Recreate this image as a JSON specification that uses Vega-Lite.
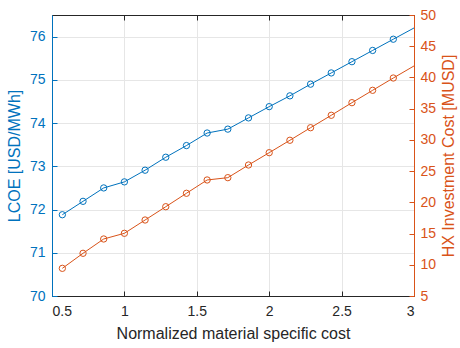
{
  "$schema": "https://vega.github.io/schema/vega-lite/v6.json",
  "width": 362,
  "height": 281,
  "autosize": {"type": "none"},
  "padding": {"left": 52, "top": 15, "right": 46, "bottom": 52},
  "background": "white",
  "config": {
    "view": {"stroke": "#262626", "strokeWidth": 1},
    "font": "Liberation Sans",
    "axis": {
      "labelFont": "Liberation Sans",
      "titleFont": "Liberation Sans",
      "labelFontSize": 14,
      "titleFontSize": 16,
      "titleFontWeight": "normal",
      "gridColor": "#e6e6e6",
      "gridWidth": 1,
      "tickSize": -5,
      "domainWidth": 1,
      "tickWidth": 1,
      "labelOverlap": false
    }
  },
  "data": {
    "values": [
      {"x": 0.5714, "lcoe": 71.88, "cost": 9.43},
      {"x": 0.7143, "lcoe": 72.19, "cost": 11.84},
      {"x": 0.8571, "lcoe": 72.50, "cost": 14.13},
      {"x": 1.0, "lcoe": 72.64, "cost": 15.04},
      {"x": 1.1429, "lcoe": 72.91, "cost": 17.17},
      {"x": 1.2857, "lcoe": 73.21, "cost": 19.30},
      {"x": 1.4286, "lcoe": 73.48, "cost": 21.45},
      {"x": 1.5714, "lcoe": 73.77, "cost": 23.58},
      {"x": 1.7143, "lcoe": 73.86, "cost": 23.95},
      {"x": 1.8571, "lcoe": 74.12, "cost": 25.98},
      {"x": 2.0, "lcoe": 74.38, "cost": 27.95},
      {"x": 2.1429, "lcoe": 74.63, "cost": 29.94},
      {"x": 2.2857, "lcoe": 74.90, "cost": 31.95},
      {"x": 2.4286, "lcoe": 75.16, "cost": 33.94},
      {"x": 2.5714, "lcoe": 75.42, "cost": 35.96},
      {"x": 2.7143, "lcoe": 75.68, "cost": 37.94},
      {"x": 2.8571, "lcoe": 75.94, "cost": 39.91},
      {"x": 3.0, "lcoe": 76.20, "cost": 41.84}
    ]
  },
  "layer": [
    {
      "layer": [
        {
          "mark": {"type": "line", "color": "#0072BD", "strokeWidth": 1},
          "encoding": {
            "x": {
              "field": "x", "type": "quantitative",
              "scale": {"domain": [0.5, 3], "nice": false},
              "axis": {
                "orient": "bottom",
                "values": [0.5, 1, 1.5, 2, 2.5, 3],
                "format": "~g",
                "title": "Normalized material specific cost",
                "titleColor": "#262626",
                "labelColor": "#262626",
                "domainColor": "#262626",
                "tickColor": "#262626",
                "grid": true,
                "labelPadding": 13,
                "titlePadding": 7
              }
            },
            "y": {
              "field": "lcoe", "type": "quantitative",
              "scale": {"domain": [70, 76.5], "nice": false},
              "axis": {
                "orient": "left",
                "values": [70, 71, 72, 73, 74, 75, 76],
                "title": "LCOE [USD/MWh]",
                "titleColor": "#0072BD",
                "labelColor": "#0072BD",
                "domainColor": "#0072BD",
                "tickColor": "#0072BD",
                "grid": true,
                "labelPadding": 12,
                "titlePadding": 7
              }
            }
          }
        },
        {
          "transform": [{"filter": "datum.x < 2.95"}],
          "mark": {"type": "point", "shape": "circle", "filled": false, "color": "#0072BD", "size": 40, "strokeWidth": 1, "opacity": 1},
          "encoding": {
            "x": {
              "field": "x", "type": "quantitative",
              "axis": {
                "orient": "top",
                "values": [0.5, 1, 1.5, 2, 2.5, 3],
                "labels": false,
                "title": null,
                "grid": false,
                "domainColor": "#262626",
                "tickColor": "#262626"
              }
            },
            "y": {"field": "lcoe", "type": "quantitative"}
          }
        }
      ]
    },
    {
      "layer": [
        {
          "mark": {"type": "line", "color": "#D95319", "strokeWidth": 1},
          "encoding": {
            "x": {"field": "x", "type": "quantitative", "axis": null},
            "y": {
              "field": "cost", "type": "quantitative",
              "scale": {"domain": [5, 50], "nice": false},
              "axis": {
                "orient": "right",
                "values": [5, 10, 15, 20, 25, 30, 35, 40, 45, 50],
                "format": "d",
                "labelOverlap": false,
                "labelBound": false,
                "title": "HX Investment Cost [MUSD]",
                "titleAngle": -90,
                "titleColor": "#D95319",
                "labelColor": "#D95319",
                "domainColor": "#D95319",
                "tickColor": "#D95319",
                "grid": false,
                "labelPadding": 11,
                "titlePadding": 21
              }
            }
          }
        },
        {
          "transform": [{"filter": "datum.x < 2.95"}],
          "mark": {"type": "point", "shape": "circle", "filled": false, "color": "#D95319", "size": 40, "strokeWidth": 1, "opacity": 1},
          "encoding": {
            "x": {"field": "x", "type": "quantitative", "axis": null},
            "y": {"field": "cost", "type": "quantitative", "axis": {"orient": "right", "labelOverlap": false, "values": [5, 10, 15, 20, 25, 30, 35, 40, 45, 50]}}
          }
        }
      ]
    }
  ],
  "resolve": {"scale": {"y": "independent"}}
}
